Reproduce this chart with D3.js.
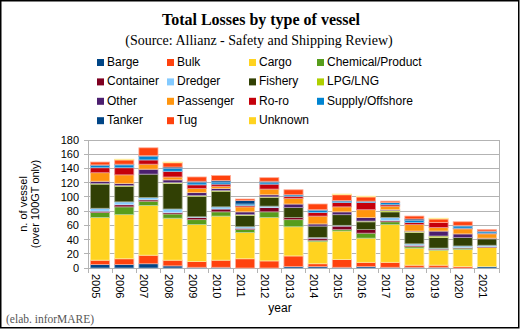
<!DOCTYPE html>
<html>
<head>
<meta charset="utf-8">
<script src="https://cdn.jsdelivr.net/npm/d3@7"></script>
<style>
  html, body { margin: 0; padding: 0; background: #fff; }
  svg { display: block; }
</style>
</head>
<body>
<script>
// years on the x axis
var years = ['2005','2006','2007','2008','2009','2010','2011','2012','2013','2014','2015','2016','2017','2018','2019','2020','2021'];

// vessel types, bottom of the stack first
var vessel_types = ['Barge','Bulk','Cargo','Chemical/Product','Container','Dredger','Fishery','LPG/LNG','Other','Passenger','Ro-ro','Supply/Offshore','Tanker','Tug','Unknown'];

// losses per year, one array per vessel type
var barge      = [5,5,6,3,1,1,0,0,2,2,1,2,1,1,1,0,2];
var bulk       = [6,8,12,8,8,10,13,10,15,4,11,6,7,3,3,2,0];
var cargo      = [60,62,70,59,52,62,37,61,41,31,40,34,53,24,21,24,27];
var chemical   = [7,11,6,6,7,6,4,8,10,2,2,7,4,2,1,2,0];
var container  = [2,3,2,2,3,4,2,6,3,3,5,5,2,2,1,1,1];
var dredger    = [4,4,3,5,1,3,2,2,0,1,1,0,4,2,1,2,2];
var fishery    = [34,22,33,36,29,22,16,12,14,16,15,11,8,16,15,12,9];
var lpg        = [1,1,0,1,1,1,1,1,0,0,0,1,2,1,2,0,0];
var other      = [3,3,7,4,4,3,4,3,5,3,4,5,1,1,7,5,1];
var passenger  = [12,12,7,4,6,3,7,8,8,11,7,11,5,9,5,7,6];
var roro       = [7,10,6,8,5,3,2,7,3,5,6,10,2,3,7,1,1];
var supply     = [3,4,5,4,3,3,2,2,2,3,2,2,3,3,0,3,2];
var tanker     = [1,1,1,2,2,2,5,2,0,1,1,0,0,2,0,1,1];
var tug        = [4,6,11,6,6,7,2,5,7,8,8,6,2,4,5,5,2];
var unknown    = [0,1,0,1,0,0,0,0,0,0,1,1,0,0,1,0,0];

var y_ticks = [0,20,40,60,80,100,120,140,160,180];

// default office palette, it wraps around after 12 colours
var palette = ['#004586','#ff420e','#ffd320','#579d1c','#7e0021','#83caff','#314004','#aecf00','#4b1f6f','#ff950e','#c5000b','#0084d1'];

function plot_it() {
	var series = [barge,bulk,cargo,chemical,container,dredger,fishery,lpg,other,passenger,roro,supply,tanker,tug,unknown];

	// one row per year, keyed by vessel type
	var rows = years.map((y, i) => {
		var r = {year: y};
		vessel_types.forEach((t, k) => { r[t] = series[k][i]; });
		return r;
	});

	var width = 521, height = 329;
	var svg = d3.select('body').append('svg').attr('width', width).attr('height', height);

	// frame round the whole chart
	svg.append('rect').attr('x', 0.75).attr('y', 0.75).attr('width', 518).attr('height', 327)
		.attr('fill', '#fff').attr('stroke', '#000').attr('stroke-width', 1.5);

	// plot area
	var left = 88, right = 499, top = 140, bottom = 268;

	var x = d3.scaleBand().domain(years).range([left, right]).paddingInner(0.21).paddingOuter(0.105);
	var y = d3.scaleLinear().domain([0, 180]).range([bottom, top]);
	var color = d3.scaleOrdinal().domain(vessel_types).range(vessel_types.map((t, i) => palette[i % palette.length]));

	// gridlines
	svg.append('g').selectAll('line').data(y_ticks).join('line')
		.attr('x1', left - 4).attr('x2', right).attr('y1', d => y(d)).attr('y2', d => y(d))
		.attr('stroke', '#b3b3b3').attr('stroke-width', 1).attr('shape-rendering', 'crispEdges');
	svg.append('line').attr('x1', left).attr('x2', left).attr('y1', top).attr('y2', bottom)
		.attr('stroke', '#b3b3b3').attr('shape-rendering', 'crispEdges');
	svg.append('line').attr('x1', right).attr('x2', right).attr('y1', top).attr('y2', bottom)
		.attr('stroke', '#b3b3b3').attr('shape-rendering', 'crispEdges');

	// y tick labels
	svg.append('g').selectAll('text').data(y_ticks).join('text')
		.attr('x', 79).attr('y', d => y(d) + 4).attr('text-anchor', 'end')
		.attr('font-family', 'Liberation Sans, Arial, sans-serif').attr('font-size', 11).attr('fill', '#000')
		.text(d => d);

	// x ticks sit on the band boundaries
	var bounds = d3.range(years.length + 1).map(i => left + i * (right - left) / years.length);
	svg.append('g').selectAll('line').data(bounds).join('line')
		.attr('x1', d => d).attr('x2', d => d).attr('y1', bottom).attr('y2', bottom + 5)
		.attr('stroke', '#b3b3b3').attr('shape-rendering', 'crispEdges');

	// stacked bars
	var stack = d3.stack().keys(vessel_types);
	var stacked = stack(rows);
	svg.append('g').attr('id', 'bars').selectAll('g').data(stacked).join('g')
		.attr('fill', d => color(d.key))
		.attr('stroke', d => d3.interpolateRgb(color(d.key), '#fff')(0.55))
		.attr('stroke-width', 0.8)
		.selectAll('rect').data(d => d.filter(s => s[1] > s[0])).join('rect')
		.attr('x', d => x(d.data.year)).attr('width', x.bandwidth())
		.attr('y', d => y(d[1])).attr('height', d => y(d[0]) - y(d[1]));

	// x labels, rotated to read downwards
	svg.append('g').selectAll('text').data(years).join('text')
		.attr('transform', d => 'translate(' + (x(d) + x.bandwidth() / 2 - 8) + ',' + (bottom + 6) + ') rotate(90)')
		.attr('font-family', 'Liberation Sans, Arial, sans-serif').attr('font-size', 11).attr('fill', '#000')
		.text(d => d);

	// axis titles
	svg.append('text').attr('x', 280).attr('y', 312).attr('text-anchor', 'middle')
		.attr('font-family', 'Liberation Sans, Arial, sans-serif').attr('font-size', 12).text('year');
	var ytitle = svg.append('text').attr('transform', 'translate(27,' + ((top + bottom) / 2) + ') rotate(-90)')
		.attr('text-anchor', 'middle').attr('font-family', 'Liberation Sans, Arial, sans-serif').attr('font-size', 11);
	ytitle.append('tspan').attr('x', 0).attr('dy', 0).text('n. of vessel');
	ytitle.append('tspan').attr('x', 0).attr('dy', 12).text('(over 100GT only)');

	// titles
	svg.append('text').attr('x', 261).attr('y', 25).attr('text-anchor', 'middle')
		.attr('font-family', 'Liberation Serif, Times New Roman, serif').attr('font-weight', 'bold').attr('font-size', 16)
		.text('Total Losses by type of vessel');
	svg.append('text').attr('x', 259).attr('y', 45).attr('text-anchor', 'middle')
		.attr('font-family', 'Liberation Serif, Times New Roman, serif').attr('font-size', 14)
		.text('(Source: Allianz - Safety and Shipping Review)');

	// legend, four columns filled row by row
	var col_x = [97, 167, 249, 317];
	var legend = svg.append('g').selectAll('g').data(vessel_types).join('g')
		.attr('transform', (d, i) => 'translate(' + col_x[i % 4] + ',' + (66 + Math.floor(i / 4) * 19.4) + ')');
	legend.append('rect').attr('x', 0).attr('y', -7).attr('width', 7).attr('height', 7).attr('fill', d => color(d));
	legend.append('text').attr('x', 10).attr('y', 0)
		.attr('font-family', 'Liberation Sans, Arial, sans-serif').attr('font-size', 12).text(d => d);

	// credit line
	svg.append('text').attr('x', 6).attr('y', 323)
		.attr('font-family', 'Liberation Serif, Times New Roman, serif').attr('font-size', 11.5).attr('fill', '#555')
		.text('(elab. inforMARE)');
}

plot_it();
</script>
</body>
</html>
